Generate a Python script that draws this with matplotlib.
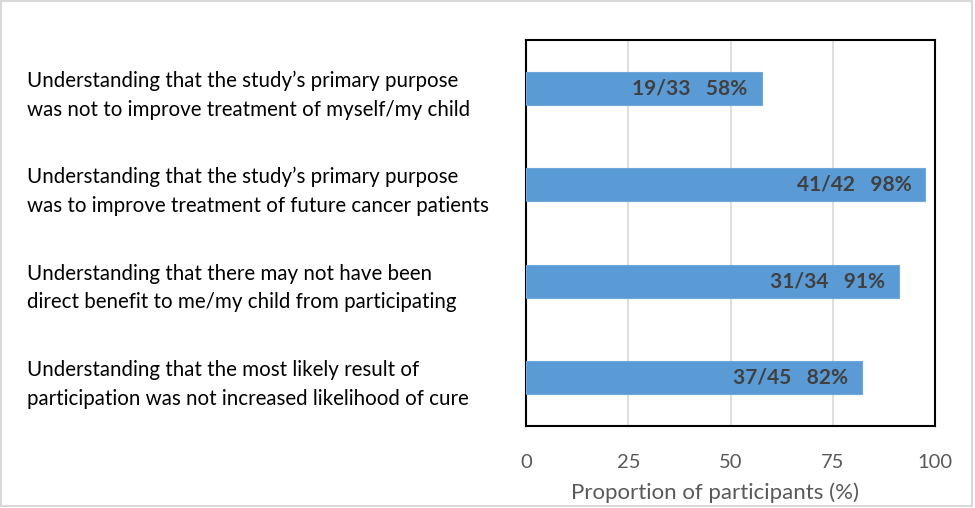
import matplotlib.pyplot as plt
from matplotlib.patches import Rectangle
import matplotlib.transforms as mtransforms

# Data
items = [
    "Understanding that the study\u2019s primary purpose\nwas not to improve treatment of myself/my child",
    "Understanding that the study\u2019s primary purpose\nwas to improve treatment of future cancer patients",
    "Understanding that there may not have been\ndirect benefit to me/my child from participating",
    "Understanding that the most likely result of\nparticipation was not increased likelihood of cure",
]
proportion = [57.6, 97.6, 91.2, 82.2]
counts = ["19/33", "41/42", "31/34", "37/45"]
pct_labels = ["58%", "98%", "91%", "82%"]
xticks = [0, 25, 50, 75, 100]

plt.rcParams['font.family'] = ['Lato', 'DejaVu Sans']

fig = plt.figure(figsize=(9.75, 5.08), dpi=100)
ax = fig.add_axes([526/975, 1 - 426/508, (935-526)/975, (426-40)/508])

ypos = list(range(len(items)))
ax.barh(ypos, proportion, height=0.34, color='#5B9BD5', edgecolor='#6FA8DC', linewidth=0.8, zorder=3)
ax.set_ylim(len(items) - 0.5, -0.5)
ax.set_xlim(0, 100)
ax.set_xticks(xticks)
ax.set_xticklabels([str(t) for t in xticks], fontsize=14.5, color='#595959')
ax.set_yticks([])
ax.tick_params(axis='x', length=0, pad=20)
ax.grid(axis='x', color='#D9D9D9', linewidth=1.2, zorder=0)
for s in ax.spines.values():
    s.set_color('black')
    s.set_linewidth(1.5)

ax.set_xlabel("Proportion of participants (%)", fontsize=16, color='#595959')
ax.xaxis.set_label_coords((715 - 526) / 409, -0.145)

# bar labels
for y, v, c, p in zip(ypos, proportion, counts, pct_labels):
    ax.text(v - 3.4, y, c + "   " + p, ha='right', va='center', fontsize=15,
            fontweight='bold', color='#404040', zorder=4)

# category labels on the left
trans = mtransforms.blended_transform_factory(fig.transFigure, ax.transData)
for y, lab in zip(ypos, items):
    ax.text(27/975, y + 0.07, lab, transform=trans, ha='left', va='center',
            fontsize=14.8, color='black', linespacing=1.55, clip_on=False)

# outer border
fig.patches.append(Rectangle((0.001, 0.003), 0.996, 0.995, transform=fig.transFigure,
                             fill=False, edgecolor='#D9D9D9', linewidth=1.5))

fig.savefig("out.png", dpi=100)
